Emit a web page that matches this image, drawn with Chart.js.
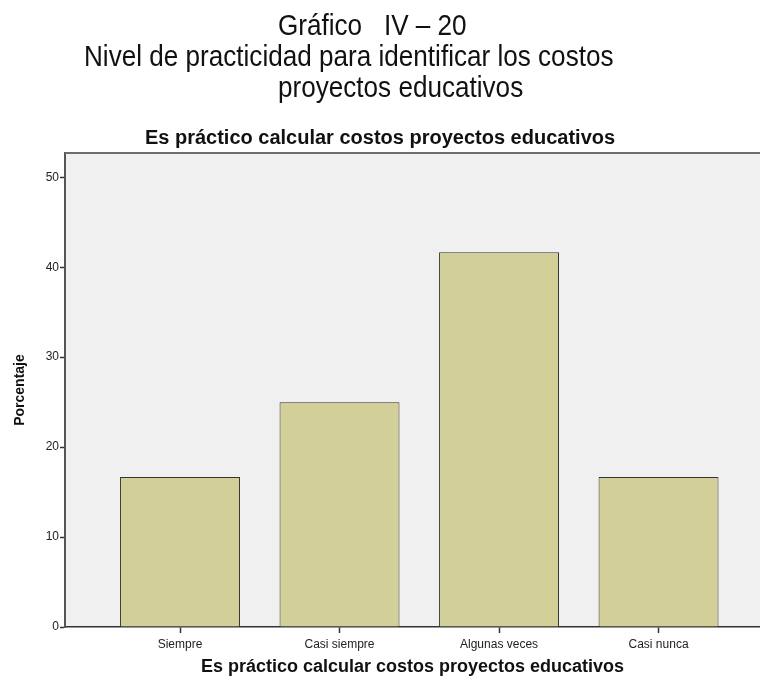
<!DOCTYPE html>
<html>
<head>
<meta charset="utf-8">
<script src="https://cdn.jsdelivr.net/npm/chart.js@4/dist/chart.umd.min.js"></script>
<style>
  html, body { margin: 0; padding: 0; background: #fff; }
  #wrap { position: relative; width: 760px; height: 679px; overflow: hidden; }
  #wrap canvas { position: absolute; left: 0; top: 0; }
  .head {
    position: absolute; white-space: nowrap; color: #111;
    font-family: "Liberation Sans Narrow", "Liberation Sans", sans-serif;
    font-size: 30px; line-height: 32px;
    transform: scaleX(0.87); transform-origin: 0 0;
  }
</style>
</head>
<body>
<div id="wrap">
  <canvas id="chart" width="760" height="679"></canvas>
  <div class="head" style="left:278px; top:9px;">Gráfico &nbsp; IV – 20</div>
  <div class="head" style="left:84px; top:40px;">Nivel de practicidad para identificar los costos</div>
  <div class="head" style="left:278px; top:71px;">proyectos educativos</div>
</div>
<script>
// data
const categories = ['Siempre', 'Casi siempre', 'Algunas veces', 'Casi nunca'];
const percentages = [16.67, 25.0, 41.67, 16.67];
const yTicks = [0, 10, 20, 30, 40, 50];

const chartTitle = 'Es práctico calcular costos proyectos educativos';
const xTitle = 'Es práctico calcular costos proyectos educativos';
const yTitle = 'Porcentaje';

const font = 'Liberation Sans, Arial, sans-serif';

// plot background and frame like the SPSS output
const plotFrame = {
  id: 'plotFrame',
  beforeDraw(chart) {
    const { ctx, chartArea: a } = chart;
    ctx.save();
    ctx.fillStyle = '#f0f0f0';
    ctx.fillRect(a.left, a.top, a.right - a.left, a.bottom - a.top);
    ctx.restore();
  },
  afterDraw(chart) {
    const { ctx, chartArea: a } = chart;
    ctx.save();
    ctx.strokeStyle = '#6e6e6e';
    ctx.lineWidth = 2;
    ctx.beginPath();
    ctx.moveTo(a.left, a.top);
    ctx.lineTo(a.right, a.top);
    ctx.stroke();
    ctx.restore();
  }
};

const ctx = document.getElementById('chart').getContext('2d');
new Chart(ctx, {
  type: 'bar',
  data: {
    datasets: [{
      label: yTitle,
      data: percentages.map((v, i) => ({ x: i + 1, y: v })),
      backgroundColor: '#d3cf98',
      borderColor: '#333',
      borderWidth: 1,
      categoryPercentage: 1,
      barPercentage: 0.752
    }]
  },
  options: {
    responsive: false,
    animation: false,
    layout: { padding: { left: 0, right: 0, top: 0, bottom: 0 } },
    plugins: {
      legend: { display: false },
      tooltip: { enabled: false },
      title: {
        display: true,
        text: chartTitle,
        color: '#111',
        font: { family: font, size: 20, weight: 'bold' },
        padding: { top: 126, bottom: 3 }
      }
    },
    scales: {
      x: {
        type: 'linear',
        offset: false,
        min: 0.279,
        max: 4.636,
        afterBuildTicks: (axis) => { axis.ticks = categories.map((c, i) => ({ value: i + 1 })); },
        afterFit: (axis) => { axis.height = 52; },
        ticks: {
          autoSkip: false,
          maxRotation: 0,
          color: '#222',
          font: { family: font, size: 12 },
          padding: 4,
          callback: (v) => categories[v - 1] || ''
        },
        grid: { offset: false, drawOnChartArea: false, drawTicks: true, tickLength: 6, tickColor: '#333', tickWidth: 1.5 },
        border: { display: true, color: '#333', width: 1.5 },
        title: {
          display: true,
          text: xTitle,
          color: '#111',
          font: { family: font, size: 18, weight: 'bold' },
          padding: { top: 0, bottom: 1 }
        }
      },
      y: {
        min: 0,
        max: 52.7,
        afterBuildTicks: (axis) => { axis.ticks = yTicks.map(v => ({ value: v })); },
        afterFit: (axis) => { axis.width = 65; },
        ticks: {
          color: '#222',
          font: { family: font, size: 12 },
          padding: 1
        },
        grid: { drawOnChartArea: false, drawTicks: true, tickLength: 5, tickColor: '#333', tickWidth: 1.5 },
        border: { display: true, color: '#555', width: 2 },
        title: {
          display: true,
          text: yTitle,
          color: '#111',
          font: { family: font, size: 14, weight: 'bold' },
          padding: { top: 12, bottom: 0 }
        }
      }
    }
  },
  plugins: [plotFrame]
});
</script>
</body>
</html>
